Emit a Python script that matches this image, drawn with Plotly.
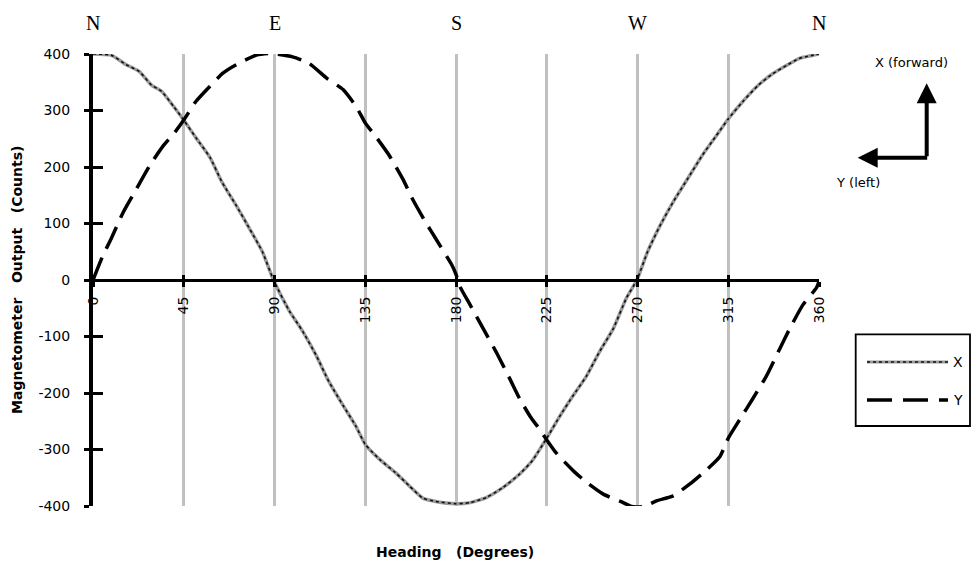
import plotly.graph_objects as go

# ---------------- data ----------------
x_heading = [0, 9, 16.5, 23, 29, 34, 40, 45, 51, 58, 64, 71, 77.6, 84, 89.5,
             97.4, 104, 110.6, 117, 124, 130.4, 135, 142, 150, 157, 163.5, 170, 180,
             187, 195, 203.4, 211.7, 218, 225, 231.5, 238, 244.7, 251, 258, 264.5, 269.7,
             275, 281, 288, 295, 302, 309, 315, 322, 330, 337, 344, 350, 356, 360]
x_counts = [400, 398, 381, 369, 345, 334, 307, 283, 252, 217, 173, 132, 91, 50, 0,
            -55, -91, -133, -180, -222, -259, -291, -317, -341, -365, -386, -392, -396,
            -394, -385, -367, -343, -319, -280, -241, -205, -170, -128, -86, -32, 0,
            50, 95, 140, 180, 220, 255, 285, 315, 345, 365, 380, 392, 397, 400]

y_heading = [0, 5, 9, 15, 21.5, 28, 34.7, 40.5, 45, 51, 58, 64.4, 71, 81, 88,
             99, 107, 116, 124, 130.5, 135, 140, 147, 153.6, 158.5, 165, 170, 178, 180,
             182, 187, 193.5, 200, 206.7, 211.7, 216.7, 221.6, 225, 229.9, 238, 244.7,
             253, 262.9, 267, 273, 279.4, 287.7, 296, 304, 310.8, 315, 320.7, 327, 333.9,
             340.5, 345.5, 352, 358.7, 360]
y_counts = [0, 44, 73, 120, 161, 202, 237, 261, 283, 316, 343, 366, 381, 398, 401,
            395, 384, 357, 337, 307, 278, 255, 220, 179, 143, 102, 73, 26, 10,
            -12, -44, -86, -128, -175, -211, -241, -265, -283, -307, -337, -358,
            -379, -394, -401, -401, -391, -382, -361, -337, -313, -280, -247, -211, -170,
            -122, -86, -44, -14, -3]

x_ticks = [0, 45, 90, 135, 180, 225, 270, 315, 360]
y_ticks = [-400, -300, -200, -100, 0, 100, 200, 300, 400]
y_tick_labels = ["-400", "-300", "-200", "-100", "0", "100", "200", "300", "400"]
compass_pos = [0, 90, 180, 270, 360]
compass_txt = ["N", "E", "S", "W", "N"]

# ---------------- layout geometry (pixels) ----------------
W, H = 974, 561
L, R, T, B = 93, 819, 54, 506


def px(xp):
    return (xp - L) / (R - L)


def py(yp):
    return (B - yp) / (B - T)


sans = "DejaVu Sans"
serif = "Liberation Serif"

X_BASE = dict(color="#9a9a9a", width=3.5)
X_SPECK = dict(color="#111111", width=1.6, dash="dot")
Y_LINE = dict(color="black", width=3.5, dash="24px,10px")

fig = go.Figure()
fig.add_trace(go.Scatter(x=x_heading, y=x_counts, mode="lines", name="X",
                         line=dict(**X_BASE, shape="spline", smoothing=0.5),
                         showlegend=False, hoverinfo="skip"))
fig.add_trace(go.Scatter(x=x_heading, y=x_counts, mode="lines", name="X",
                         line=dict(**X_SPECK, shape="spline", smoothing=0.5),
                         showlegend=False))
fig.add_trace(go.Scatter(x=y_heading, y=y_counts, mode="lines", name="Y",
                         line=dict(**Y_LINE, shape="spline", smoothing=0.5),
                         showlegend=False))
# empty helper traces so overlay axes are drawn
fig.add_trace(go.Scatter(x=[], y=[], xaxis="x3", yaxis="y", showlegend=False))
fig.add_trace(go.Scatter(x=[], y=[], xaxis="x", yaxis="y2", showlegend=False))

fig.update_layout(
    width=W, height=H,
    margin=dict(l=L, r=W - R, t=T, b=H - B, pad=0),
    plot_bgcolor="white", paper_bgcolor="white",
    showlegend=False,
    font=dict(family=sans, size=14, color="black"),
    xaxis=dict(range=[0, 360], anchor="free", position=0.5,
               showline=True, linewidth=3, linecolor="black",
               ticks="outside", ticklen=5, tickwidth=3, tickcolor="black",
               tickvals=x_ticks, ticktext=[str(v) for v in x_ticks],
               tickangle=-90, tickfont=dict(family=sans, size=14),
               ticklabelstandoff=4,
               showgrid=True, gridcolor="#c0c0c0", gridwidth=2.5,
               zeroline=False, fixedrange=True),
    xaxis3=dict(matches="x", overlaying="x", anchor="free", position=0.5,
                showline=False, ticks="inside", ticklen=5, tickwidth=3,
                tickcolor="black", tickvals=x_ticks, showticklabels=False,
                showgrid=False, zeroline=False),
    yaxis=dict(range=[-400, 400], showline=True, linewidth=4, linecolor="black",
               ticks="outside", ticklen=5, tickwidth=3, tickcolor="black",
               tickvals=y_ticks, ticktext=y_tick_labels,
               tickfont=dict(family=sans, size=14), ticklabelstandoff=11,
               showgrid=False, zeroline=False, fixedrange=True),
    yaxis2=dict(matches="y", overlaying="y", showline=False,
                ticks="inside", ticklen=10, tickwidth=3, tickcolor="black",
                tickvals=y_ticks, showticklabels=False,
                showgrid=False, zeroline=False),
)

ann = []
for pos, txt in zip(compass_pos, compass_txt):
    ann.append(dict(x=pos, y=py(23), xref="x", yref="paper", text=txt,
                    showarrow=False, xanchor="center", yanchor="middle",
                    font=dict(family=serif, size=20, color="black")))
ann.append(dict(x=px(17), y=0.5, xref="paper", yref="paper",
                text="Magnetometer\u00a0\u00a0\u00a0Output\u00a0\u00a0\u00a0(Counts)",
                textangle=-90, showarrow=False, xanchor="center", yanchor="middle",
                font=dict(family=sans, size=14, color="black", weight="bold")))
ann.append(dict(x=px(455), y=py(552), xref="paper", yref="paper",
                text="Heading\u00a0\u00a0\u00a0(Degrees)",
                showarrow=False, xanchor="center", yanchor="middle",
                font=dict(family=sans, size=14, color="black", weight="bold")))
# orientation arrows
ann.append(dict(x=px(926.7), y=py(83.3), xref="paper", yref="paper", text="",
                showarrow=True, arrowhead=2, arrowwidth=4, arrowsize=1,
                arrowcolor="black", ax=0, ay=74.4, standoff=0))
ann.append(dict(x=px(857.7), y=py(157.7), xref="paper", yref="paper", text="",
                showarrow=True, arrowhead=2, arrowwidth=4, arrowsize=1,
                arrowcolor="black", ax=71, ay=0, standoff=0))
ann.append(dict(x=px(912), y=py(62), xref="paper", yref="paper", text="X (forward)",
                showarrow=False, xanchor="center", yanchor="middle",
                font=dict(family=sans, size=13, color="black")))
ann.append(dict(x=px(858), y=py(182), xref="paper", yref="paper", text="Y (left)",
                showarrow=False, xanchor="center", yanchor="middle",
                font=dict(family=sans, size=13, color="black")))
# legend labels
ann.append(dict(x=px(958), y=py(362), xref="paper", yref="paper", text="X",
                showarrow=False, xanchor="center", yanchor="middle",
                font=dict(family=sans, size=14, color="black")))
ann.append(dict(x=px(958), y=py(400), xref="paper", yref="paper", text="Y",
                showarrow=False, xanchor="center", yanchor="middle",
                font=dict(family=sans, size=14, color="black")))
fig.update_layout(annotations=ann)

shapes = [
    dict(type="rect", xref="paper", yref="paper", x0=px(855.7), x1=px(970),
         y0=py(334.3), y1=py(426), line=dict(color="black", width=1.8),
         fillcolor="white", layer="above"),
    dict(type="line", xref="paper", yref="paper", x0=px(867), x1=px(948),
         y0=py(362), y1=py(362), line=dict(color=X_BASE["color"], width=3)),
    dict(type="line", xref="paper", yref="paper", x0=px(867), x1=px(948),
         y0=py(362), y1=py(362), line=dict(color=X_SPECK["color"], width=1.4, dash="dot")),
    dict(type="line", xref="paper", yref="paper", x0=px(867), x1=px(948),
         y0=py(400), y1=py(400), line=dict(color="black", width=3.5, dash="25px,11px")),
]
fig.update_layout(shapes=shapes)

fig.write_html("out.html",
               config={"displayModeBar": False},
               post_script="document.body.style.margin='0';"
                           "document.body.style.overflow='hidden';")
